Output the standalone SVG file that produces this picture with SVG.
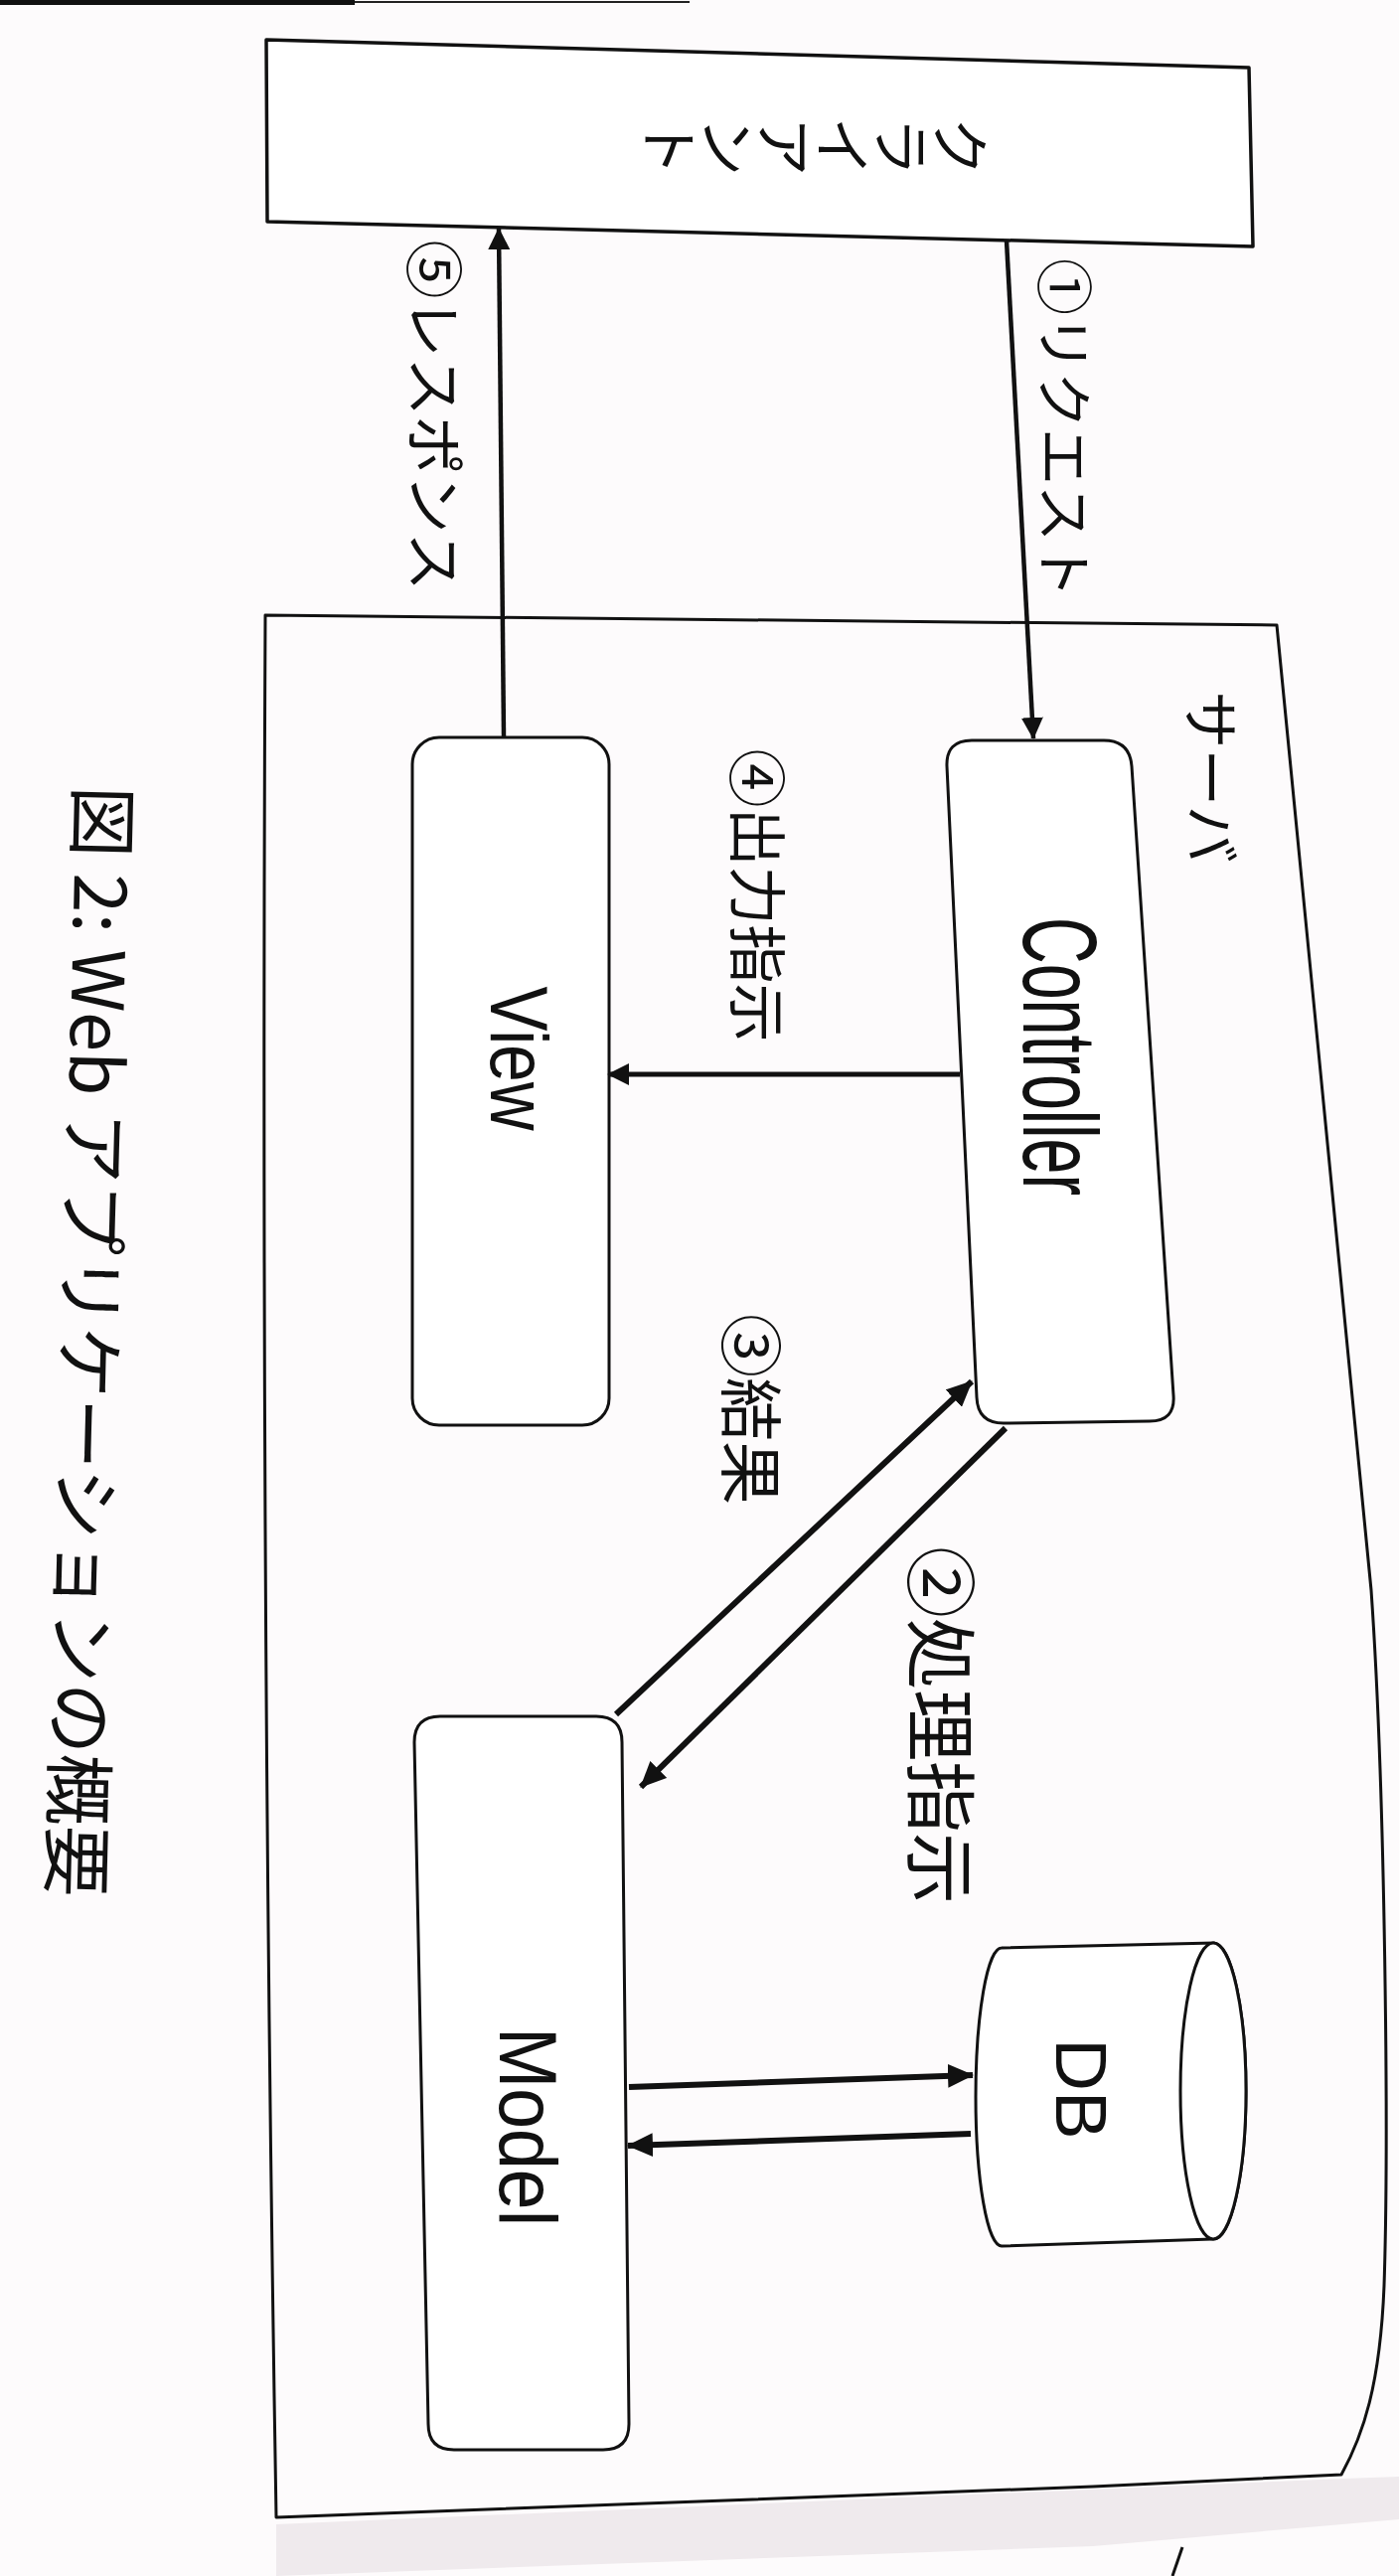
<svg xmlns="http://www.w3.org/2000/svg" width="1408" height="2592" viewBox="0 0 1408 2592">
<style>
.box{fill:#fff;stroke:#111;stroke-width:3;stroke-linejoin:round}
.frame{fill:none;stroke:#111;stroke-width:3;stroke-linejoin:round}
.edge{stroke:#111;stroke-width:5;fill:none}
.bold{stroke-width:6}
.thin{stroke-width:4.5}
.jp{font-family:"Noto Sans CJK JP","Noto Sans",sans-serif;fill:#111}
.en{font-family:"Liberation Sans",Arial,sans-serif;fill:#111}
</style>
<defs>
<marker id="ah" viewBox="0 0 22 22" refX="21" refY="11" markerWidth="22" markerHeight="22" markerUnits="userSpaceOnUse" orient="auto">
<path d="M0,0 L22,11 L0,22 Z" fill="#111"/>
</marker>
<marker id="ahb" viewBox="0 0 26 24" refX="25" refY="12" markerWidth="26" markerHeight="24" markerUnits="userSpaceOnUse" orient="auto">
<path d="M0,0 L26,12 L0,24 Z" fill="#111"/>
</marker>
</defs>
<rect width="1408" height="2592" fill="#fdfbfc"/>
<g id="paper-artifacts">
<line x1="0" y1="2" x2="357" y2="2" stroke="#111" stroke-width="6"/>
<line x1="357" y1="2" x2="694" y2="2" stroke="#222" stroke-width="2"/>
<polygon points="278,2540 1352,2494 1408,2492 1408,2535 1100,2562 278,2592" fill="#efeaed"/>
<line x1="1190" y1="2563" x2="1180" y2="2592" stroke="#111" stroke-width="3"/>
</g>
<g id="server">
<path class="frame" d="M267,619 L1285,629 L1380,1600 C1394,1800 1398,2150 1393,2300 C1389,2400 1372,2450 1350,2490 L1100,2502 L278,2533 Q262,1600 267,619 Z"/>
<text class="jp" font-size="58" text-anchor="middle" dominant-baseline="central" transform="translate(1222,782) rotate(90)">サーバ</text>
</g>
<g id="client">
<polygon class="box" points="268,40 1257,68 1261,248 269,223" style="stroke-width:3.5"/>
<text class="jp" font-size="59" text-anchor="middle" rotate="-90" transform="translate(768,118) rotate(180)">クライアント</text>
</g>
<g id="controller">
<path class="box" d="M978,745 L1111,745 Q1137,745 1139,771 L1181,1404 Q1183,1430 1157,1430 L1010,1432 Q984,1432 983,1406 L953,771 Q952,745 978,745 Z"/>
<text class="en" font-size="106" text-anchor="middle" textLength="280" lengthAdjust="spacingAndGlyphs" transform="translate(1030,1063) rotate(90)">Controller</text>
</g>
<g id="view">
<rect class="box" x="415" y="742" width="198" height="692" rx="27" ry="27"/>
<text class="en" font-size="81" text-anchor="middle" textLength="145" lengthAdjust="spacingAndGlyphs" transform="translate(494,1065) rotate(90)">View</text>
</g>
<g id="model">
<path class="box" d="M443,1727 L600,1727 Q626,1727 626,1753 L633,2439 Q633,2465 607,2465 L457,2465 Q431,2465 431,2439 L417,1753 Q417,1727 443,1727 Z"/>
<text class="en" font-size="81" text-anchor="middle" textLength="200" lengthAdjust="spacingAndGlyphs" transform="translate(503,2140) rotate(90)">Model</text>
</g>
<g id="db">
<path class="box" d="M1222,1955 L1008,1960 A26,150 0 0 0 1008,2260 L1220,2253 A33,149 0 0 0 1222,1955 Z"/>
<ellipse cx="1221" cy="2104" rx="33" ry="149" fill="#fff" stroke="#111" stroke-width="3"/>
<text class="en" font-size="73" text-anchor="middle" transform="translate(1063,2102) rotate(90)">DB</text>
</g>
<g id="connectors">
<line class="edge thin" x1="1013" y1="242" x2="1040" y2="743" marker-end="url(#ah)"/>
<line class="edge thin" x1="507" y1="741" x2="502" y2="230" marker-end="url(#ah)"/>
<line class="edge" x1="966" y1="1081" x2="612" y2="1081" marker-end="url(#ah)"/>
<line class="edge bold" x1="1012" y1="1437" x2="645" y2="1798" marker-end="url(#ahb)"/>
<line class="edge bold" x1="620" y1="1725" x2="978" y2="1390" marker-end="url(#ahb)"/>
<line class="edge bold" x1="633" y1="2100" x2="979" y2="2088" marker-end="url(#ahb)"/>
<line class="edge bold" x1="977" y1="2147" x2="632" y2="2159" marker-end="url(#ahb)"/>
<text class="jp" font-size="57" text-anchor="middle" dominant-baseline="central" transform="translate(1075,431) rotate(90)">①リクエスト</text>
<text class="jp" font-size="59" text-anchor="middle" dominant-baseline="central" transform="translate(440,418) rotate(90)">⑤レスポンス</text>
<text class="jp" font-size="59" text-anchor="middle" dominant-baseline="central" transform="translate(765,901) rotate(90)">④出力指示</text>
<text class="jp" font-size="64" text-anchor="middle" dominant-baseline="central" transform="translate(760,1418) rotate(90)">③結果</text>
<text class="jp" font-size="72" text-anchor="middle" dominant-baseline="central" transform="translate(951,1736) rotate(90)">②処理指示</text>
</g>
<g id="caption">
<text class="jp" font-size="72" text-anchor="middle" dominant-baseline="central" transform="translate(95,1350) rotate(91.4)">図 2: Web アプリケーションの概要</text>
</g>
</svg>
